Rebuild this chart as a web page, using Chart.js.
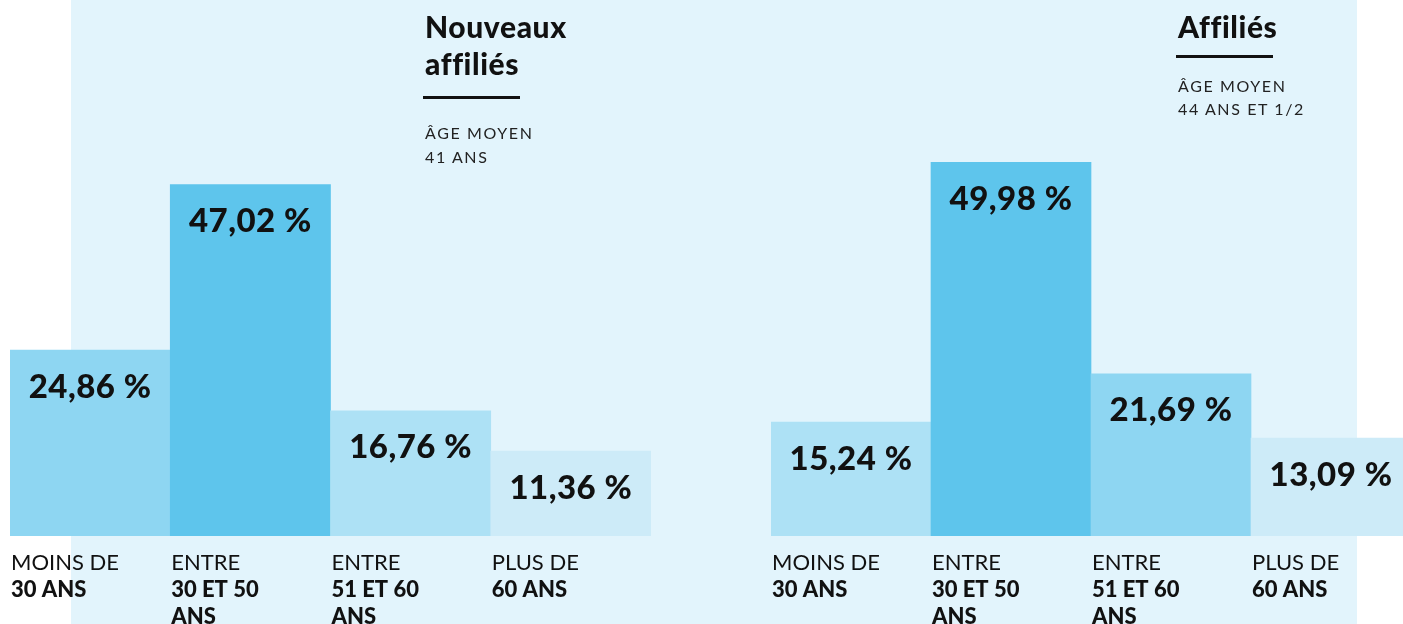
<!DOCTYPE html>
<html lang="fr">
<head>
<meta charset="utf-8">
<script src="https://cdn.jsdelivr.net/npm/chart.js@4.4.1/dist/chart.umd.min.js"></script>
<style>
  html, body { margin: 0; padding: 0; background: #fff; overflow: hidden; }
  body { width: 1403px; height: 624px; position: relative; font-family: Lato, "Open Sans", sans-serif; color: #111; }
  #panel { position: absolute; left: 71px; top: 0; width: 1286px; height: 624px; background: #e2f4fc; }
  .box { position: absolute; top: 0; height: 624px; width: 640px; }
  #boxLeft { left: 10px; width: 641px; }
  #boxRight { left: 771px; }
  .head { position: absolute; }
  .head h2 { margin: 0; font-size: 30px; line-height: 37px; font-weight: 900; letter-spacing: 0.6px; }
  .head .rule { width: 97px; height: 3px; background: #111; margin: 10px 0 0 -2px; }
  .head p { margin: 20px 0 0 0; font-size: 16px; line-height: 24px; letter-spacing: 1.6px; font-weight: 400; color: #222; }
  #headLeft { left: 425px; top: 8px; }
  #headLeft .rule { margin-top: 14px; }
  #headLeft p { margin-top: 22px; }
  #headRight { left: 1178px; top: 8px; }
  #headRight p { margin-top: 16px; line-height: 23px; }
</style>
</head>
<body>
<div id="panel"></div>
<div class="box" id="boxLeft"><canvas id="chartLeft"></canvas></div>
<div class="box" id="boxRight"><canvas id="chartRight"></canvas></div>

<div class="head" id="headLeft">
  <h2>Nouveaux<br>affiliés</h2>
  <div class="rule"></div>
  <p>ÂGE MOYEN<br>41 ANS</p>
</div>
<div class="head" id="headRight">
  <h2>Affiliés</h2>
  <div class="rule"></div>
  <p>ÂGE MOYEN<br>44 ANS ET 1/2</p>
</div>

<script>
// age brackets, first line regular, the rest bold
var categories = [
    ['MOINS DE', '30 ANS'],
    ['ENTRE', '30 ET 50', 'ANS'],
    ['ENTRE', '51 ET 60', 'ANS'],
    ['PLUS DE', '60 ANS']
];
var newMembers = [24.86, 47.02, 16.76, 11.36];
var allMembers = [15.24, 49.98, 21.69, 13.09];

var leftColors = ['#8ed6f2', '#5ec5ec', '#ade1f5', '#cdebf8'];
var rightColors = ['#ade1f5', '#5ec5ec', '#8ed6f2', '#cdebf8'];

var yMax = 71.7;

function formatPct(v) {
    return v.toFixed(2).replace('.', ',') + ' %';
}

// draws the value inside each bar and the two-weight labels under the axis
var labelsPlugin = {
    id: 'labelsPlugin',
    afterDatasetsDraw: function(chart) {
        var ctx = chart.ctx;
        var meta = chart.getDatasetMeta(0);
        var values = chart.data.datasets[0].data;
        ctx.save();
        ctx.fillStyle = '#111';
        ctx.textAlign = 'center';
        ctx.textBaseline = 'middle';
        ctx.font = '900 33px Lato, sans-serif';
        ctx.letterSpacing = '0.5px';
        meta.data.forEach(function(bar, i) {
            ctx.fillText(formatPct(values[i]), bar.x, bar.y + 37);
        });

        ctx.letterSpacing = '0px';
        ctx.textAlign = 'left';
        ctx.textBaseline = 'middle';
        meta.data.forEach(function(bar, i) {
            var left = bar.x - bar.width / 2 + 1;
            var lines = categories[i];
            lines.forEach(function(line, j) {
                ctx.font = (j === 0 ? '400 ' : '900 ') + '22px Lato, sans-serif';
                ctx.fillText(line, left, chart.chartArea.bottom + 27 + j * 27);
            });
        });
        ctx.restore();
    }
};

function makeChart(id, values, colors) {
    var ctx = document.getElementById(id).getContext('2d');
    return new Chart(ctx, {
        type: 'bar',
        data: {
            labels: categories.map(function(c) { return c.join(' '); }),
            datasets: [{
                data: values,
                backgroundColor: colors,
                borderWidth: 0,
                barPercentage: 1,
                categoryPercentage: 1
            }]
        },
        options: {
            responsive: true,
            maintainAspectRatio: false,
            animation: false,
            layout: { padding: { top: 0, bottom: 88, left: 0, right: 0 } },
            plugins: {
                legend: { display: false },
                tooltip: { enabled: false }
            },
            scales: {
                x: { display: false },
                y: { display: false, min: 0, max: yMax }
            }
        },
        plugins: [labelsPlugin]
    });
}

makeChart('chartLeft', newMembers, leftColors);
makeChart('chartRight', allMembers, rightColors);
</script>
</body>
</html>
